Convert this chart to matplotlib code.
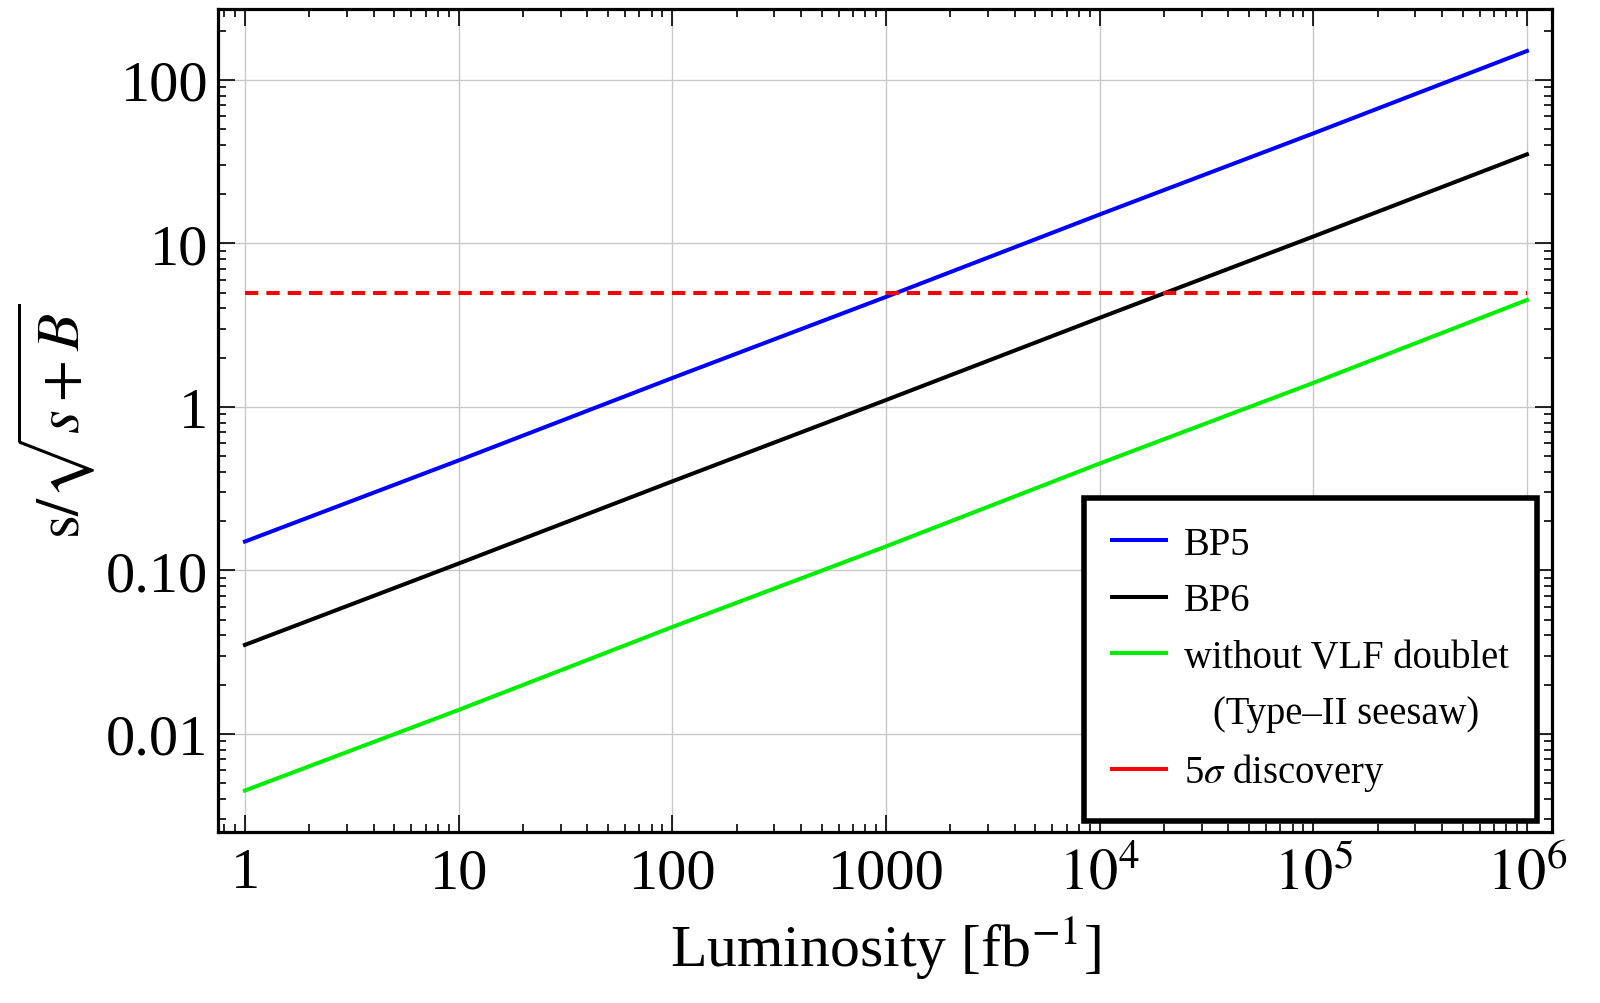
import matplotlib
matplotlib.use("Agg")
import matplotlib.pyplot as plt
from matplotlib.lines import Line2D
from matplotlib.ticker import LogLocator, NullFormatter, FixedLocator, FixedFormatter

# Data
luminosity = [1, 10, 100, 1000, 1e4, 1e5, 1e6]
bp5 = [0.15, 0.47, 1.5, 4.7, 15, 47, 150]
bp6 = [0.035, 0.11, 0.35, 1.1, 3.5, 11, 35]
no_vlf = [0.0045, 0.014, 0.045, 0.14, 0.45, 1.4, 4.5]
discovery_level = 5.0

xtick_vals = [1, 10, 100, 1000, 1e4, 1e5, 1e6]
xtick_labels = ["1", "10", "100", "1000", r"$10^4$", r"$10^5$", r"$10^6$"]
ytick_vals = [0.01, 0.1, 1, 10, 100]
ytick_labels = ["0.01", "0.10", "1", "10", "100"]

plt.rcParams['font.family'] = ['Liberation Serif', 'DejaVu Serif']
plt.rcParams['mathtext.fontset'] = 'stix'

fig = plt.figure(figsize=(16, 10.04), dpi=100)
ax = fig.add_axes([218/1600, 1-833/1004, (1552-218)/1600, (833-10)/1004])

LW = 2.9
ax.plot(luminosity, bp5, color='#0000ff', lw=LW)
ax.plot(luminosity, bp6, color='black', lw=LW)
ax.plot(luminosity, no_vlf, color='#00ee00', lw=LW)
ax.plot([luminosity[0], luminosity[-1]], [discovery_level, discovery_level],
        color='#ff0000', lw=LW, ls=(0, (3.3, 2.0)))

ax.set_xscale('log')
ax.set_yscale('log')
ax.set_xlim(0.748, 1.31e6)
ax.set_ylim(0.00251, 271)

ax.xaxis.set_major_locator(FixedLocator(xtick_vals))
ax.xaxis.set_major_formatter(FixedFormatter(xtick_labels))
ax.yaxis.set_major_locator(FixedLocator(ytick_vals))
ax.yaxis.set_major_formatter(FixedFormatter(ytick_labels))
ax.xaxis.set_minor_locator(LogLocator(base=10, subs=range(2, 10), numticks=20))
ax.yaxis.set_minor_locator(LogLocator(base=10, subs=range(2, 10), numticks=20))
ax.xaxis.set_minor_formatter(NullFormatter())
ax.yaxis.set_minor_formatter(NullFormatter())

ax.tick_params(which='both', direction='in', top=True, right=True, width=1.2, color='black')
ax.tick_params(which='major', length=12, labelsize=42)
ax.tick_params(axis='x', which='major', pad=11)
ax.tick_params(axis='y', which='major', pad=7)
ax.tick_params(which='minor', length=6)

ax.grid(True, which='major', color='#c8c8c8', lw=1.0)
for sp in ax.spines.values():
    sp.set_linewidth(2.3)

ax.set_xlabel(r'Luminosity [fb$^{-1}$]', fontsize=43, labelpad=8)
ax.set_ylabel(r'$\mathrm{s}/\sqrt{s+B}$', fontsize=44, labelpad=6)

handles = [
    Line2D([], [], color='#0000ff', lw=LW),
    Line2D([], [], color='black', lw=LW),
    Line2D([], [], color='#00ee00', lw=LW),
    Line2D([], [], color='none', lw=0),
    Line2D([], [], color='#ff0000', lw=LW),
]
labels = ['BP5', 'BP6', 'without VLF doublet', '   (Type\u2013II seesaw)', r'5$\sigma$ discovery']
leg = ax.legend(handles, labels, loc='lower right', fontsize=27.8, frameon=True, fancybox=False,
                edgecolor='black', handlelength=1.4, handletextpad=0.48,
                borderpad=0.72, labelspacing=0.5, borderaxespad=0,
                bbox_to_anchor=((1537-218)/1334, (833-822)/823))
leg.get_frame().set_linewidth(4)
leg.get_frame().set_alpha(1)

fig.savefig('out.png', dpi=100)
